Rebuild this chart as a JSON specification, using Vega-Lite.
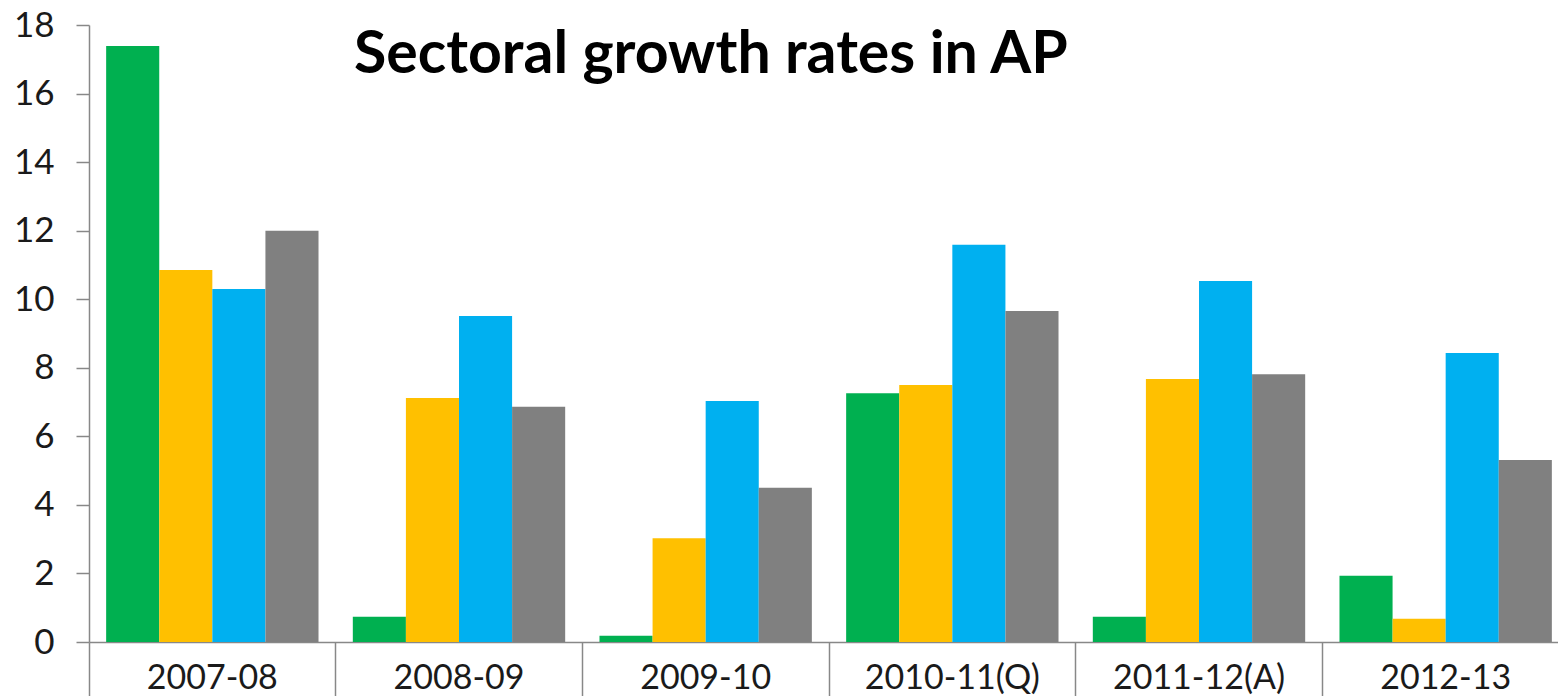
{
  "$schema": "https://vega.github.io/schema/vega-lite/v6.json",
  "width": 1469,
  "height": 617,
  "autosize": {"type": "none"},
  "padding": {"left": 89, "top": 25, "right": 0, "bottom": 54},
  "background": "white",
  "title": {
    "text": "Sectoral growth rates in AP",
    "anchor": "start",
    "frame": "group",
    "orient": "top",
    "offset": 0,
    "dx": 265,
    "dy": 124,
    "baseline": "alphabetic",
    "font": "Lato",
    "fontSize": 59,
    "fontWeight": "bold",
    "color": "#000000"
  },
  "config": {"view": {"stroke": null}},
  "data": {
    "values": [
      {"year": "2007-08", "sector": "Agriculture", "rate": 17.39},
      {"year": "2007-08", "sector": "Industry", "rate": 10.85},
      {"year": "2007-08", "sector": "Services", "rate": 10.3},
      {"year": "2007-08", "sector": "GSDP", "rate": 12.0},
      {"year": "2008-09", "sector": "Agriculture", "rate": 0.74},
      {"year": "2008-09", "sector": "Industry", "rate": 7.12},
      {"year": "2008-09", "sector": "Services", "rate": 9.51},
      {"year": "2008-09", "sector": "GSDP", "rate": 6.86},
      {"year": "2009-10", "sector": "Agriculture", "rate": 0.18},
      {"year": "2009-10", "sector": "Industry", "rate": 3.03},
      {"year": "2009-10", "sector": "Services", "rate": 7.03},
      {"year": "2009-10", "sector": "GSDP", "rate": 4.5},
      {"year": "2010-11(Q)", "sector": "Agriculture", "rate": 7.26},
      {"year": "2010-11(Q)", "sector": "Industry", "rate": 7.5},
      {"year": "2010-11(Q)", "sector": "Services", "rate": 11.59},
      {"year": "2010-11(Q)", "sector": "GSDP", "rate": 9.66},
      {"year": "2011-12(A)", "sector": "Agriculture", "rate": 0.74},
      {"year": "2011-12(A)", "sector": "Industry", "rate": 7.67},
      {"year": "2011-12(A)", "sector": "Services", "rate": 10.53},
      {"year": "2011-12(A)", "sector": "GSDP", "rate": 7.81},
      {"year": "2012-13", "sector": "Agriculture", "rate": 1.93},
      {"year": "2012-13", "sector": "Industry", "rate": 0.68},
      {"year": "2012-13", "sector": "Services", "rate": 8.43},
      {"year": "2012-13", "sector": "GSDP", "rate": 5.31}
    ]
  },
  "mark": {"type": "bar"},
  "encoding": {
    "x": {
      "field": "year",
      "type": "nominal",
      "sort": null,
      "scale": {"range": [0, 1480], "paddingInner": 0, "paddingOuter": 0},
      "axis": {
        "title": null,
        "bandPosition": 0,
        "tickSize": 54,
        "labelPadding": -35,
        "labelBaseline": "top",
        "labelAlign": "center",
        "labelAngle": 0,
        "labelOverlap": false,
        "labelFlush": false,
        "labelBound": false,
        "labelFont": "Lato",
        "labelFontSize": 34,
        "labelColor": "#1a1a1a",
        "domainColor": "#888888",
        "tickColor": "#888888",
        "domainWidth": 1.5,
        "tickWidth": 1.5
      }
    },
    "xOffset": {
      "field": "sector",
      "sort": ["Agriculture", "Industry", "Services", "GSDP"],
      "scale": {"paddingInner": 0, "paddingOuter": 0.323}
    },
    "y": {
      "field": "rate",
      "type": "quantitative",
      "scale": {"domain": [0, 18], "nice": false},
      "axis": {
        "title": null,
        "values": [0, 2, 4, 6, 8, 10, 12, 14, 16, 18],
        "grid": false,
        "tickSize": 13,
        "labelPadding": 22,
        "labelFont": "Lato",
        "labelFontSize": 35,
        "labelColor": "#1a1a1a",
        "domainColor": "#888888",
        "tickColor": "#888888",
        "domainWidth": 1.5,
        "tickWidth": 1.5
      }
    },
    "color": {
      "field": "sector",
      "type": "nominal",
      "scale": {
        "domain": ["Agriculture", "Industry", "Services", "GSDP"],
        "range": ["#00B050", "#FFC000", "#00B0F0", "#808080"]
      },
      "legend": null
    }
  }
}
